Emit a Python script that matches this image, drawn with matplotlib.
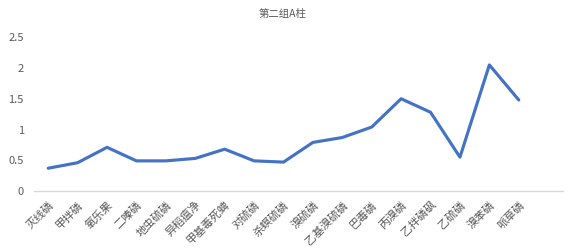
import matplotlib
matplotlib.use('Agg')
import matplotlib.pyplot as plt

categories = ['灭线磷', '甲拌磷', '氧乐果', '二嗪磷', '地虫硫磷', '异稻瘟净',
              '甲基毒死蜱', '对硫磷', '杀螟硫磷', '溴硫磷', '乙基溴硫磷', '巴毒磷',
              '丙溴磷', '乙拌磷砜', '乙硫磷', '溴苯磷', '哌草磷']
values = [0.37, 0.46, 0.71, 0.49, 0.49, 0.53, 0.68, 0.49, 0.47, 0.79,
          0.87, 1.04, 1.50, 1.28, 0.55, 2.05, 1.48]
yticks = [0, 0.5, 1, 1.5, 2, 2.5]
ytick_labels = ['0', '0.5', '1', '1.5', '2', '2.5']


def main():
    plt.rcParams['font.family'] = ['Noto Sans CJK SC', 'DejaVu Sans']
    grey = '#595959'

    fig = plt.figure(figsize=(5.68, 2.5), dpi=100)
    ax = fig.add_axes([0.059, 0.236, 0.932, 0.615])

    x = list(range(len(categories)))
    ax.plot(x, values, color='#4472C4', linewidth=2.25,
            solid_joinstyle='round', solid_capstyle='round')

    # one empty slot on the right, like the original sheet
    ax.set_xlim(-0.5, len(categories) + 0.5)
    ax.set_ylim(0, 2.5)
    ax.set_yticks(yticks)
    ax.set_yticklabels(ytick_labels, color=grey, fontsize=8)
    ax.set_xticks(x)
    ax.set_xticklabels(categories, rotation=45, ha='right', va='top',
                       rotation_mode='anchor', color=grey, fontsize=8)
    ax.tick_params(axis='both', length=0)
    ax.tick_params(axis='y', pad=7)
    ax.tick_params(axis='x', pad=6)

    for side in ['top', 'right', 'left']:
        ax.spines[side].set_visible(False)
    ax.spines['bottom'].set_color('#d9d9d9')
    ax.spines['bottom'].set_linewidth(1)

    fig.text(0.497, 0.945, '第二组A柱', ha='center', va='center',
             color=grey, fontsize=7.5)

    fig.savefig('out.png', dpi=100)


if __name__ == '__main__':
    main()
